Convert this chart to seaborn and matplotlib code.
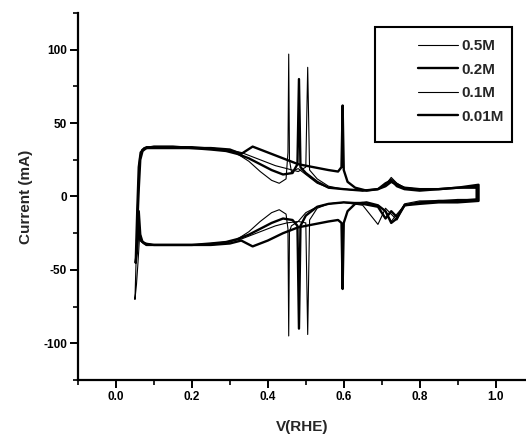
import matplotlib
matplotlib.use("Agg")
import matplotlib.pyplot as plt
import seaborn as sns
from matplotlib.patches import Rectangle
from matplotlib.ticker import MultipleLocator

# series labels, as in the legend
labels = ["0.5M", "0.2M", "0.1M", "0.01M"]

# 0.5M : forward (anodic) branch and return (cathodic) branch
v_05_up = [0.050, 0.054, 0.058, 0.062, 0.068, 0.080, 0.10, 0.15, 0.20, 0.25, 0.29, 0.32, 0.35, 0.38, 0.41, 0.43,
           0.448, 0.453, 0.455, 0.457, 0.462, 0.48, 0.50, 0.53, 0.56, 0.60, 0.65, 0.69, 0.71, 0.725, 0.74, 0.76,
           0.80, 0.85, 0.90, 0.953, 0.953]
i_05_up = [-70, -35, 5, 26, 32, 34, 34, 34, 34, 33, 32, 29, 24, 17, 11, 9,
           12, 30, 97, 25, 17, 19, 15, 9, 6, 5, 4, 5, 8, 12, 9, 6,
           5, 5, 6, 7, -3]
v_05_down = [0.90, 0.85, 0.80, 0.76, 0.74, 0.725, 0.71, 0.69, 0.65, 0.60, 0.56, 0.53, 0.50, 0.48, 0.462, 0.457,
             0.455, 0.453, 0.448, 0.43, 0.41, 0.38, 0.35, 0.32, 0.29, 0.25, 0.20, 0.15, 0.10, 0.080, 0.068, 0.062,
             0.058, 0.054, 0.050]
i_05_down = [-3, -3, -4, -6, -12, -17, -10, -6, -4, -4, -5, -7, -11, -17, -20, -24,
             -95, -22, -12, -9, -11, -17, -24, -29, -32, -33, -33, -33, -33, -33, -31, -28,
             -45, -60, -70]

# 0.2M
v_02_up = [0.052, 0.056, 0.060, 0.065, 0.075, 0.10, 0.15, 0.20, 0.25, 0.29, 0.32, 0.35, 0.38, 0.41, 0.44, 0.465,
           0.478, 0.482, 0.486, 0.50, 0.53, 0.56, 0.60, 0.65, 0.69, 0.71, 0.725, 0.74, 0.76, 0.80, 0.85, 0.90,
           0.95, 0.95]
i_02_up = [-45, -10, 20, 30, 33, 33, 33, 33, 32, 31, 29, 26, 22, 18, 15, 16,
           22, 80, 20, 16, 10, 6, 5, 4, 5, 7, 10, 8, 6, 5, 5, 6,
           6, -2]
v_02_down = [0.90, 0.85, 0.80, 0.76, 0.74, 0.725, 0.71, 0.69, 0.65, 0.60, 0.56, 0.53, 0.50, 0.486, 0.482, 0.478,
             0.465, 0.44, 0.41, 0.38, 0.35, 0.32, 0.29, 0.25, 0.20, 0.15, 0.10, 0.075, 0.065, 0.060, 0.056, 0.052]
i_02_down = [-3, -3, -4, -6, -14, -10, -15, -7, -5, -4, -5, -7, -13, -20, -90, -20,
             -16, -15, -18, -22, -26, -29, -31, -32, -33, -33, -33, -32, -30, -20, -35, -45]

# 0.1M
v_01_up = [0.054, 0.058, 0.062, 0.068, 0.080, 0.10, 0.15, 0.20, 0.25, 0.29, 0.33, 0.36, 0.39, 0.42, 0.45, 0.48,
           0.500, 0.505, 0.510, 0.53, 0.56, 0.60, 0.65, 0.69, 0.71, 0.725, 0.74, 0.76, 0.80, 0.85, 0.90, 0.95,
           0.95]
i_01_up = [-30, 0, 24, 31, 33, 34, 34, 33, 33, 32, 30, 27, 24, 21, 19, 17,
           20, 88, 18, 12, 7, 5, 4, 5, 8, 13, 9, 6, 5, 5, 6, 7,
           -2]
v_01_down = [0.90, 0.85, 0.80, 0.76, 0.74, 0.725, 0.71, 0.69, 0.65, 0.60, 0.56, 0.53, 0.510, 0.505, 0.500, 0.48,
             0.45, 0.42, 0.39, 0.36, 0.33, 0.29, 0.25, 0.20, 0.15, 0.10, 0.080, 0.068, 0.062, 0.058, 0.054]
i_01_down = [-2, -3, -3, -5, -16, -12, -8, -19, -6, -4, -5, -8, -16, -94, -18, -17,
             -18, -20, -23, -26, -29, -31, -32, -33, -33, -33, -32, -30, -25, -15, -30]

# 0.01M
v_001_up = [0.056, 0.060, 0.064, 0.070, 0.080, 0.10, 0.15, 0.20, 0.25, 0.30, 0.33, 0.36, 0.40, 0.44, 0.48, 0.52,
            0.56, 0.585, 0.594, 0.597, 0.600, 0.61, 0.63, 0.66, 0.69, 0.71, 0.725, 0.74, 0.76, 0.80, 0.85, 0.90,
            0.955, 0.955]
i_001_up = [-20, 5, 25, 31, 33, 34, 34, 33, 33, 32, 29, 34, 30, 26, 22, 20,
            18, 17, 20, 62, 18, 10, 6, 4, 5, 9, 11, 7, 5, 4, 5, 6,
            8, -3]
v_001_down = [0.90, 0.85, 0.80, 0.76, 0.74, 0.725, 0.71, 0.69, 0.66, 0.63, 0.61, 0.600, 0.597, 0.594, 0.585, 0.56,
              0.52, 0.48, 0.44, 0.40, 0.36, 0.33, 0.30, 0.25, 0.20, 0.15, 0.10, 0.080, 0.070, 0.064, 0.060, 0.056]
i_001_down = [-4, -4, -5, -6, -15, -18, -10, -6, -4, -5, -10, -18, -63, -18, -16, -17,
              -19, -21, -25, -30, -34, -30, -32, -33, -33, -33, -33, -33, -31, -26, -10, -25]

curves_v = [v_05_up + v_05_down, v_02_up + v_02_down, v_01_up + v_01_down, v_001_up + v_001_down]
curves_i = [i_05_up + i_05_down, i_02_up + i_02_down, i_01_up + i_01_down, i_001_up + i_001_down]
widths = [0.8, 1.7, 0.8, 1.7]

sns.set_style("ticks")
plt.rcParams['font.family'] = ['Liberation Sans', 'DejaVu Sans']
plt.rcParams['font.weight'] = 'bold'
plt.rcParams['axes.unicode_minus'] = False

fig = plt.figure(figsize=(5.26, 4.36), dpi=100)
ax = fig.add_axes([78 / 526, 56 / 436, 448 / 526, 367 / 436])

for v, i, lab, lw in zip(curves_v, curves_i, labels, widths):
    sns.lineplot(x=v, y=i, sort=False, estimator=None, color='black', lw=lw, label=lab, ax=ax)

ax.set_xlim(-0.1, 1.08)
ax.set_ylim(-125, 125)
ax.xaxis.set_major_locator(MultipleLocator(0.2))
ax.xaxis.set_minor_locator(MultipleLocator(0.1))
ax.yaxis.set_major_locator(MultipleLocator(50))
ax.yaxis.set_minor_locator(MultipleLocator(25))
ax.set_xticks([0.0, 0.2, 0.4, 0.6, 0.8, 1.0])
ax.set_xticklabels(["0.0", "0.2", "0.4", "0.6", "0.8", "1.0"])

sns.despine(ax=ax, top=True, right=True)
for s in ['left', 'bottom']:
    ax.spines[s].set_linewidth(1.6)
    ax.spines[s].set_color('black')
ax.tick_params(which='major', length=6, width=1.4, labelsize=8.5, pad=2, colors='black')
ax.tick_params(which='minor', length=3.5, width=1.2, colors='black')
for t in ax.get_xticklabels() + ax.get_yticklabels():
    t.set_fontweight('bold')

ax.set_xlabel("V(RHE)", fontsize=11, fontweight='bold', labelpad=12)
ax.set_ylabel("Current (mA)", fontsize=11, fontweight='bold', labelpad=7)

leg = ax.legend(loc='upper right', bbox_to_anchor=(0.975, 0.958), frameon=False,
                handlelength=2.6, handletextpad=0.25, labelspacing=0.62,
                borderpad=0.2, prop={'weight': 'bold', 'size': 11})
ax.add_patch(Rectangle((0.663, 0.649), 0.306, 0.313, transform=ax.transAxes,
                       fill=False, edgecolor='black', lw=1.5, clip_on=False))

fig.savefig("out.png", dpi=100)
